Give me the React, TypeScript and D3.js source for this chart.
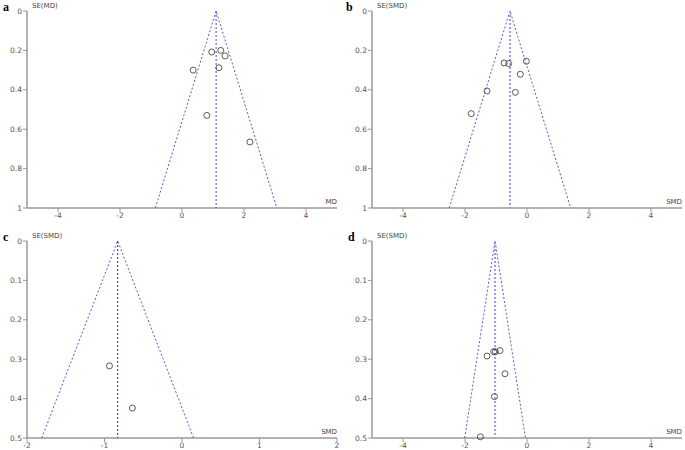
import React from 'react';
import * as d3 from 'd3';

// funnel plot data per panel: [effect, SE]
const pointsA = [[0.96, 0.208], [1.25, 0.2], [1.39, 0.228], [0.36, 0.3], [1.19, 0.288], [0.8, 0.53], [2.19, 0.665]];
const pointsB = [[-0.74, 0.264], [-0.59, 0.267], [-0.02, 0.255], [-0.215, 0.321], [-1.29, 0.406], [-0.376, 0.413], [-1.8, 0.521]];
const pointsC = [[-0.936, 0.317], [-0.64, 0.424]];
const pointsD = [[-1.075, 0.281], [-1.02, 0.281], [-0.87, 0.278], [-1.29, 0.292], [-0.71, 0.337], [-1.05, 0.395], [-1.505, 0.497]];

const centers = [1.1, -0.55, -0.83, -1.03];
const xLabels = ['MD', 'SMD', 'SMD', 'SMD'];
const yLabels = ['SE(MD)', 'SE(SMD)', 'SE(SMD)', 'SE(SMD)'];
const panelNames = ['a', 'b', 'c', 'd'];
const xTicksWide = [-4, -2, 0, 2, 4];
const xTicksNarrow = [-2, -1, 0, 1, 2];
const yTicksOne = [0, 0.2, 0.4, 0.6, 0.8, 1];
const yTicksHalf = [0, 0.1, 0.2, 0.3, 0.4, 0.5];

const panels = [
  {pts: pointsA, xd: [-5, 5], xt: xTicksWide, yMax: 1, yt: yTicksOne, x0: 27, x1: 337, y0: 11, y1: 208, lx: 3, ly: 11, cc: '#4b4bd6'},
  {pts: pointsB, xd: [-5, 5], xt: xTicksWide, yMax: 1, yt: yTicksOne, x0: 372, x1: 682, y0: 11, y1: 208, lx: 346, ly: 11, cc: '#9a9aea'},
  {pts: pointsC, xd: [-2, 2], xt: xTicksNarrow, yMax: 0.5, yt: yTicksHalf, x0: 27, x1: 337, y0: 241, y1: 438, lx: 3, ly: 241, cc: '#2a2a80'},
  {pts: pointsD, xd: [-5, 5], xt: xTicksWide, yMax: 0.5, yt: yTicksHalf, x0: 372, x1: 682, y0: 241, y1: 438, lx: 348, ly: 241, cc: '#9a9aea'},
];

function fmtY(v) {
  return v === 0 || v === 1 ? String(v) : v.toFixed(1);
}

function Panel({p, i}) {
  var x = d3.scaleLinear().domain(p.xd).range([p.x0, p.x1]);
  var y = d3.scaleLinear().domain([0, p.yMax]).range([p.y0, p.y1]);
  var c = centers[i];
  var line = d3.line().x(d => x(d[0])).y(d => y(d[1]));
  var funnel = [[c - 1.96 * p.yMax, p.yMax], [c, 0], [c + 1.96 * p.yMax, p.yMax]];
  var tickFont = {fontFamily: 'DejaVu Sans', fontSize: '7.5px', fill: '#555'};
  return (
    <g>
      <text x={p.lx} y={p.ly} style={{fontFamily: 'Liberation Serif', fontWeight: 'bold', fontSize: '12px'}}>{panelNames[i]}</text>
      <line x1={p.x0} x2={p.x0} y1={p.y0} y2={p.y1} stroke="#999" strokeWidth="1.5"/>
      <line x1={p.x0} x2={p.x1} y1={p.y1} y2={p.y1} stroke="#999" strokeWidth="1.5"/>
      {p.yt.map(t => (
        <g key={'y' + t}>
          <line x1={p.x0 - 4} x2={p.x0} y1={y(t)} y2={y(t)} stroke="#999"/>
          <text x={p.x0 - 5} y={y(t) + 2.5} textAnchor="end" style={tickFont}>{fmtY(t)}</text>
        </g>
      ))}
      {p.xt.map(t => (
        <g key={'x' + t}>
          <line x1={x(t)} x2={x(t)} y1={p.y1} y2={p.y1 + 4} stroke="#999"/>
          <text x={x(t)} y={p.y1 + 10} textAnchor="middle" style={tickFont}>{t < 0 ? '-' + Math.abs(t) : t}</text>
        </g>
      ))}
      <text x={p.x0 + 5} y={p.y0 - 3} style={{fontFamily: 'DejaVu Sans', fontSize: '7px', fill: '#444'}}>{yLabels[i]}</text>
      <text x={p.x1} y={p.y1 - 4} textAnchor="end" style={{fontFamily: 'DejaVu Sans', fontSize: '7px', fill: '#444'}}>{xLabels[i]}</text>
      <path d={line(funnel)} fill="none" stroke="#5a5ad8" strokeWidth="1" strokeDasharray="2,2"/>
      <line x1={x(c)} x2={x(c)} y1={y(0)} y2={y(p.yMax)} stroke={p.cc} strokeWidth={i % 2 === 1 ? 2 : 1} strokeDasharray="2,2"/>
      {p.pts.map((d, k) => (
        <circle key={k} cx={x(d[0])} cy={y(d[1])} r="3" fill="none" stroke="#333" strokeWidth="0.8"/>
      ))}
    </g>
  );
}

export default function App() {
  return (
    <svg width={685} height={450} style={{position: 'absolute', left: 0, top: 0, background: '#fff'}}>
      {panels.map((p, i) => <Panel key={i} p={p} i={i}/>)}
    </svg>
  );
}
